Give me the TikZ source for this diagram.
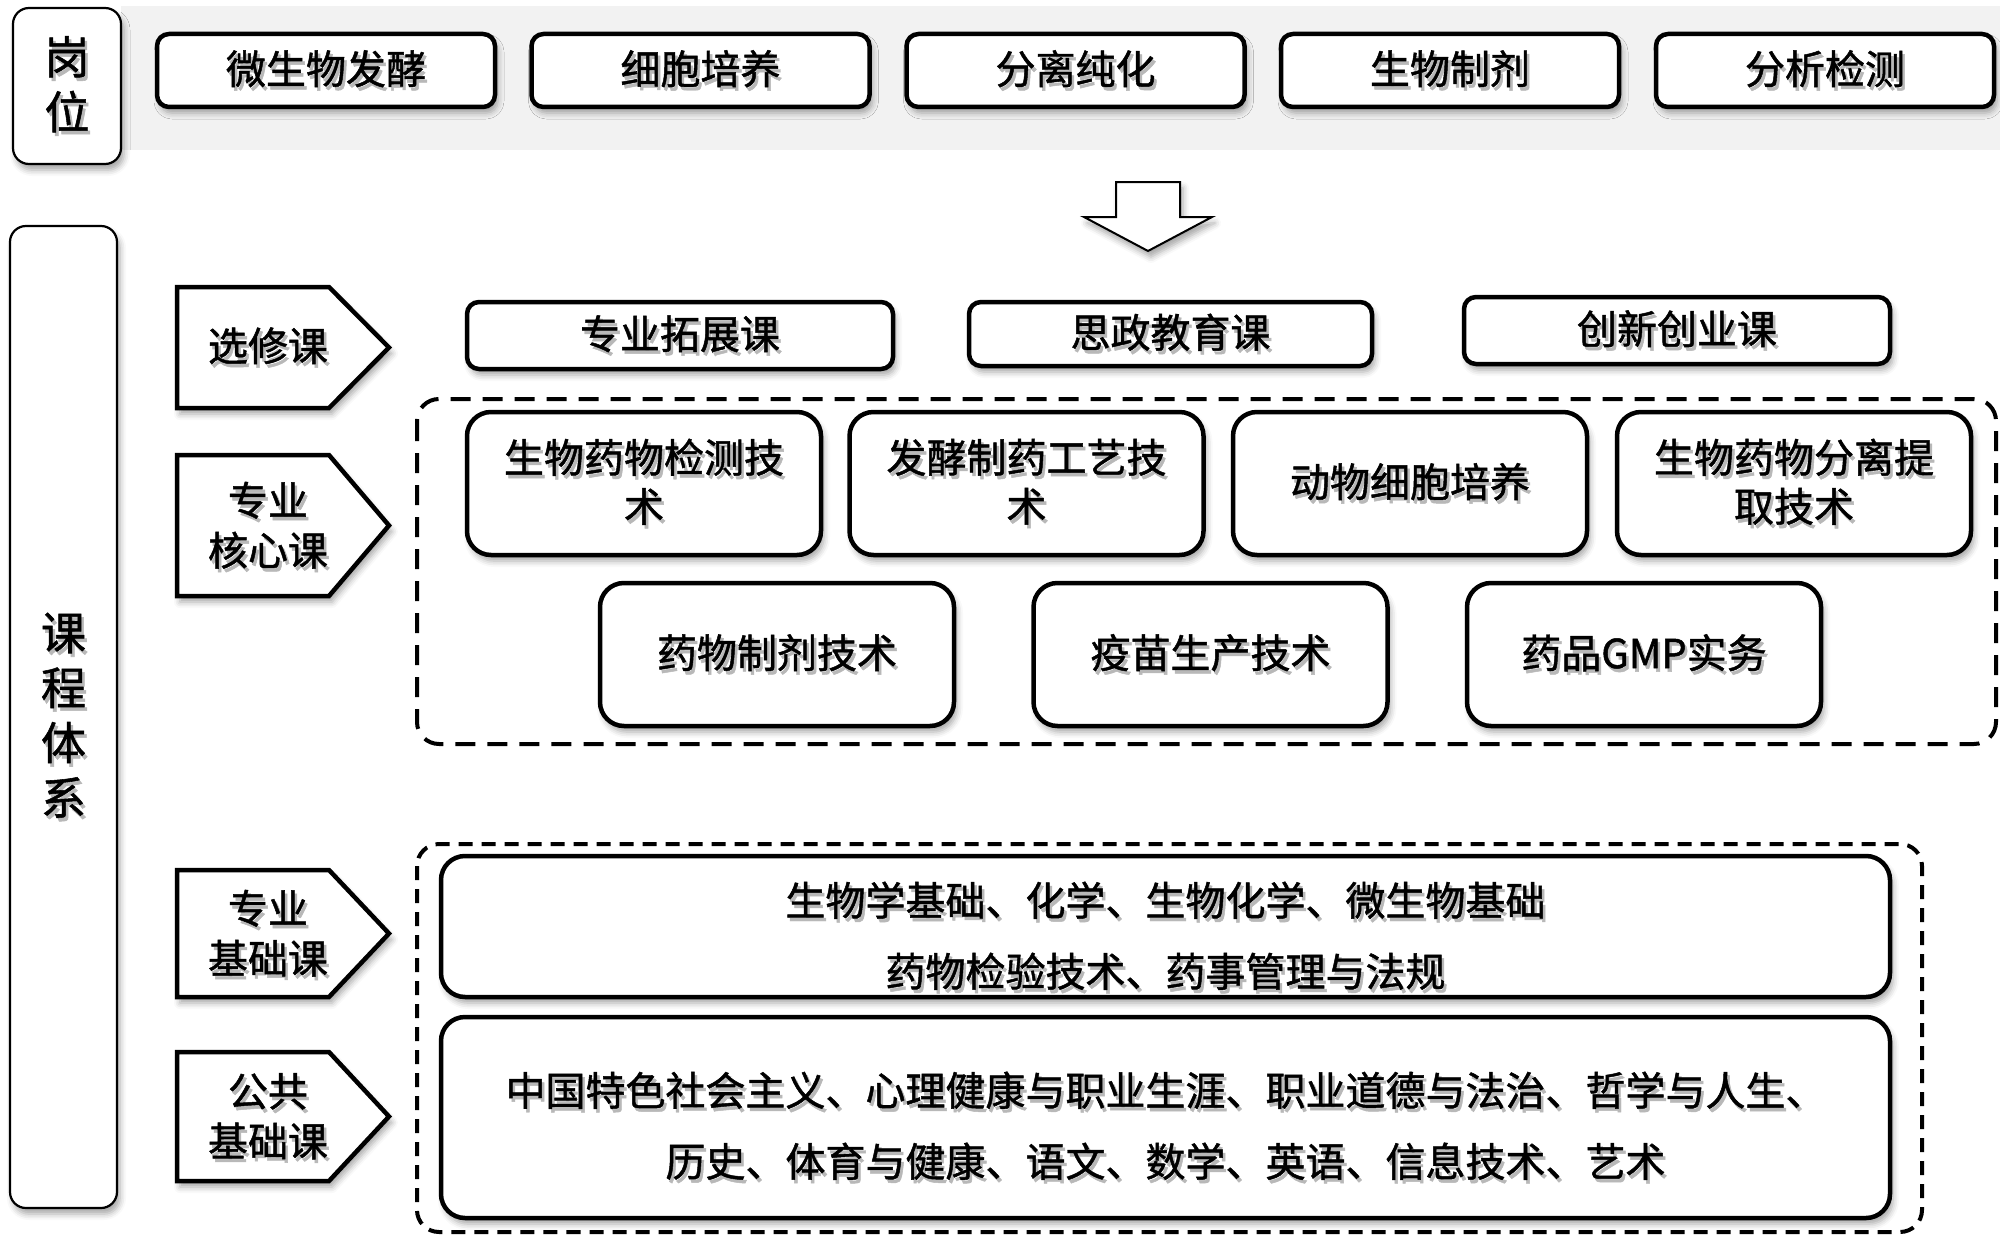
\documentclass[tikz,border=0pt]{standalone}
\usepackage{fontspec}
\newfontfamily\cjk[FakeBold=1.2]{Noto Sans CJK SC}
\usetikzlibrary{shadows.blur}
\newcommand\sht[1]{\leavevmode\rlap{\hspace{2.5pt}\raisebox{-3.5pt}{\textcolor{black!28}{#1}}}#1}
\tikzset{
  shd/.style={blur shadow={shadow xshift=3pt, shadow yshift=-6pt, shadow blur radius=6pt, shadow opacity=35}},
  box/.style={draw=black, line width=4.5pt, fill=white, rounded corners=12pt, inner sep=0pt, align=center, shd,
    font=\cjk\fontsize{40}{49}\selectfont},
  bigbox/.style={box, rounded corners=24pt},
  sidebox/.style={draw=black, line width=2.2pt, fill=white, rounded corners=16pt, inner sep=0pt, align=center, shd,
    font=\cjk\fontsize{45}{55}\selectfont},
  chev/.style={draw=black, line width=4.5pt, fill=white, shd},
  chevtext/.style={align=center, inner sep=0pt, font=\cjk\fontsize{40}{50}\selectfont},
  bottext/.style={align=center, inner sep=0pt, font=\cjk\fontsize{40}{71}\selectfont},
  dashbox/.style={draw=black, line width=4pt, rounded corners=22pt, dash pattern=on 20pt off 12pt},
}
\begin{document}
\begin{tikzpicture}[x=1pt,y=-1pt]
\useasboundingbox (0,0) rectangle (2000,1236);
% gray band
\fill[black!5] (121,6) rectangle (2000,150);
% side boxes
\node[sidebox, minimum width=108pt, minimum height=156pt] (gw) at (67,86) {\sht{岗}\\\sht{位}};
\node[sidebox, minimum width=107pt, minimum height=982pt] (kc) at (63.5,717) {\sht{课}\\\sht{程}\\\sht{体}\\\sht{系}};
% top boxes
\foreach \n/\x/\t in {t1/326/微生物发酵, t2/700.5/细胞培养, t3/1075.5/分离纯化, t4/1450/生物制剂, t5/1825/分析检测}
  \node[box, minimum width=338pt, minimum height=73pt] (\n) at (\x,70.5) {\sht{\t}};
% down arrow
\draw[line width=2pt, fill=white, shd] (1116,182) -- (1180,182) -- (1180,217) -- (1212,217) -- (1148,251) -- (1084,217) -- (1116,217) -- cycle;
% chevrons
\foreach \n/\ya/\yb in {c1/287/408, c2/455/596, c3/870/997, c4/1052/1181}
  \draw[chev] (177,\ya) -- (329,\ya) -- (389,{(\ya+\yb)/2}) -- (329,\yb) -- (177,\yb) -- cycle;
\node[chevtext] (l1) at (268,347.5) {\sht{选修课}};
\node[chevtext] (l2) at (268,527) {\sht{专业}\\\sht{核心课}};
\node[chevtext] (l3) at (268,935) {\sht{专业}\\\sht{基础课}};
\node[chevtext] (l4) at (268,1118) {\sht{公共}\\\sht{基础课}};
% electives
\node[box, minimum width=426pt, minimum height=67pt] (e1) at (680,335.5) {\sht{专业拓展课}};
\node[box, minimum width=403pt, minimum height=64pt] (e2) at (1170.5,334) {\sht{思政教育课}};
\node[box, minimum width=426pt, minimum height=67pt] (e3) at (1677,330.5) {\sht{创新创业课}};
% core dashed
\draw[dashbox] (417,399) rectangle (1996,744);
\node[bigbox, minimum width=354pt, minimum height=143pt] (k1) at (644,483.5) {\sht{生物药物检测技}\\\sht{术}};
\node[bigbox, minimum width=354pt, minimum height=143pt] (k2) at (1026.5,483.5) {\sht{发酵制药工艺技}\\\sht{术}};
\node[bigbox, minimum width=354pt, minimum height=143pt] (k3) at (1410,483.5) {\sht{动物细胞培养}};
\node[bigbox, minimum width=354pt, minimum height=143pt] (k4) at (1794,483.5) {\sht{生物药物分离提}\\\sht{取技术}};
\node[bigbox, minimum width=354pt, minimum height=143pt] (k5) at (777,654.5) {\sht{药物制剂技术}};
\node[bigbox, minimum width=354pt, minimum height=143pt] (k6) at (1210.5,654.5) {\sht{疫苗生产技术}};
\node[bigbox, minimum width=354pt, minimum height=143pt] (k7) at (1644,654.5) {\sht{药品GMP实务}};
% lower dashed
\draw[dashbox, dash pattern=on 14pt off 9pt] (417,844) rectangle (1922,1232);
\node[bigbox, minimum width=1449pt, minimum height=141pt] (b1) at (1165.5,926.5) {};
\node[bottext] (b1t) at ([yshift=-11pt]b1.center)
  {\sht{生物学基础、化学、生物化学、微生物基础}\\\sht{药物检验技术、药事管理与法规}};
\node[bigbox, minimum width=1449pt, minimum height=201pt] (b2) at (1165.5,1117.5) {};
\node[bottext] (b2t) at ([yshift=-10pt]b2.center)
  {\sht{中国特色社会主义、心理健康与职业生涯、职业道德与法治、哲学与人生、}\\\sht{历史、体育与健康、语文、数学、英语、信息技术、艺术}};
\end{tikzpicture}
\end{document}
